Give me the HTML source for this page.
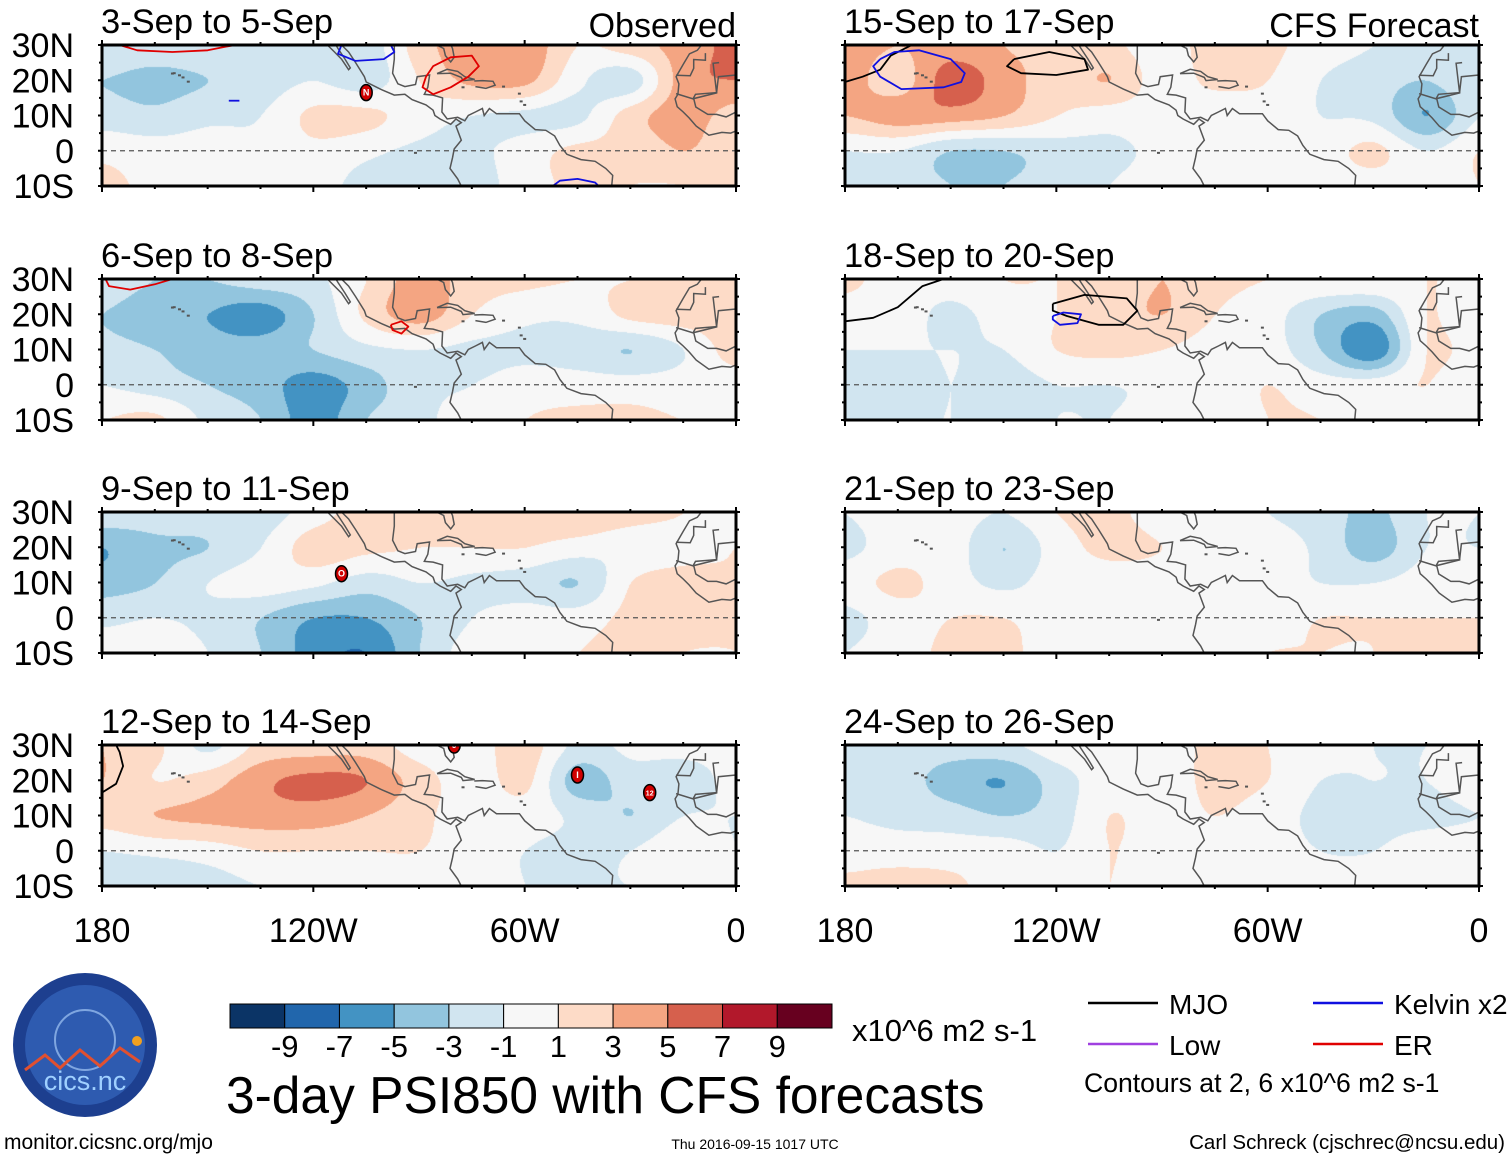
<!DOCTYPE html>
<html><head><meta charset="utf-8">
<style>
html,body{margin:0;padding:0;background:#fff;}
#wrap{position:relative;width:1510px;height:1159px;overflow:hidden;font-family:"Liberation Sans",sans-serif;}
canvas,svg{position:absolute;left:0;top:0;}
</style></head>
<body>
<div id="wrap">
<canvas id="cv" width="1510" height="1159"></canvas>
<svg id="sv" width="1510" height="1159" xmlns="http://www.w3.org/2000/svg"></svg>
</div>
<script>
// ---- data ----
const lats = [30,20,10,0,-10];
const lons = [-180,-165,-150,-135,-120,-105,-90,-75,-60,-45,-30,-15,0];
const panelTitles = ["3-Sep to 5-Sep","6-Sep to 8-Sep","9-Sep to 11-Sep","12-Sep to 14-Sep","15-Sep to 17-Sep","18-Sep to 20-Sep","21-Sep to 23-Sep","24-Sep to 26-Sep"];
const levels = [-9,-7,-5,-3,-1,1,3,5,7,9];
const levelColors = ["#0b3466","#2166ac","#4393c3","#92c5de","#d1e5f0","#f7f7f7","#fddbc7","#f4a582","#d6604d","#b2182b","#67001f"];
const xTickLabels = ["180","120W","60W","0"];
const yTickLabels = ["30N","20N","10N","0","10S"];
const field1 = [[-1.5,-2,-1.5,-1,-1.5,-2,2,4.5,4.5,1,2,4,5.5],[-3,-3.5,-3,-2,-1,-2,1,3.5,3.5,-0.5,-2,4,5],[-2,-2.5,-1.5,-1,1.5,1.5,0,-1,-1.5,-1.5,2,4,2],[0.5,0,0,-0.5,0.5,-0.5,-1.5,-1.5,0,1.5,1.5,3,1.5],[1.5,0.5,0,0,0,-2,-3,-2,0,1.5,1,1,2]];
const field2 = [[-2,-3,-3,-2,-1.5,1,4,2,1.5,1,1,1.5,2],[-3,-4,-5,-6,-3,1.5,4,1,-0.5,-0.5,1.5,2,2],[-2.5,-3,-4,-4,-3,-1.5,-1,-1.5,-1.5,-2,-3,-1,2],[-1,-2,-3,-4,-6,-4,-1.5,-1,0,0,0,0,0],[1,1.5,-1.5,-3,-6,-3,-1.5,0,1,1.5,1.5,1,1]];
const field3 = [[-1.5,-2,-2,-2,0,2,1.5,1.5,2,3,2,1,0],[-5,-3.5,-3,-1,2,1.5,1,1,1,0,-0.5,0,1],[-4,-3,-1,0,-0.5,-2,-1,-1.5,-2,-3,1,2,1],[-1.5,-1,-1.5,-3,-5,-5,-3,-1,0,0,1.5,1.5,1],[0,0,-1,-3,-6,-7,-3,0,0,1,1.5,1,1]];
const field4 = [[3,1.5,-1.5,1.5,2,2,0,0,2,-1.5,-0.5,0,0],[3,1,2,4.5,5.5,5,2,0,1.5,-4,-2,-2.5,0],[2,3,3.5,4,4,3,1.5,0,0,-1.5,-3,-1,-1],[-1,-0.5,0,1,1,1,1,0,-1,-1.5,-1,0.5,-1],[-2.5,-3,-2,-1,-1,0,0,0,-1,-1,-1,-1,-1]];
const field5 = [[4,3,4,3,2,1.5,0,2,1.5,0,-1,-1.5,-1],[4,2,6,4,2,3,0,1.5,1,-1,-2,-3,-1],[3,4,4,3,1,0,0,-0.5,0,-1,-1.5,-5,-1],[-1,-1,-3,-3,-2,-1.5,-0.5,0,0,0,1.5,-1,1],[-1,-2,-3,-3,-2,-1,0,0,0,0,0,0,1]];
const field6 = [[1.5,0,0,1,1,1.5,3,1.5,1,1,1,1,1],[0,0,-1.5,0,1,2,3,1,0,-3,-4,1,-1],[-1,-1,-1,-1,1,1.5,1,0,0,-3,-6.5,1,0],[-1.5,-2,-1,-2,-1,-1,-0.5,0,1,0,0,1,-1],[-1.5,-1.5,-1,-2,-1,-1,0,0,1,1,0,0,0]];
const field7 = [[-1,0,0,-1,1,1.5,0,0,-1,-2,-3.5,-1,-1],[-1.5,0,0,-3,0,1.5,1,0,0,-1.5,-4,-1,-1],[0,1.5,0,-1.5,0,0,0,0,0,-1,-1,0,0],[-1.5,0,1,1,0,0,0,0,0,1,1,1,1],[-1,0,1.5,1.5,0,0,0,0,1,1,1,3,1.5]];
const field8 = [[-1,-1.5,-2,-1.5,0,0,0,1.5,1,0,-1,-1,-1],[-1.5,-2,-4,-5,-2,0,0,1.5,1,-1,-1,-1,0],[-1,-1.5,-2,-3,-2,1,0,1,0,-1.5,-1.5,-1.5,-1],[0,0,0,0,-1,1,0,0,0,-1,-1,0,0],[1.5,2,1.5,0,0,1,0,0,1,0,0,0,0]];
const fields = [field1,field2,field3,field4,field5,field6,field7,field8];
// ---- layout ----
const PW=634, PH=141;
const panelLeft=[102,102,102,102,845,845,845,845];
const panelTop=[45,279,512,745,45,279,512,745];
const NS="http://www.w3.org/2000/svg";
const sv=document.getElementById('sv');
const ctx=document.getElementById('cv').getContext('2d');
function xOf(p,lon){return panelLeft[p]+(lon+180)/180*PW;}
function yOf(p,lat){return panelTop[p]+(30-lat)/40*PH;}
function mk(tag,attrs,parent){const e=document.createElementNS(NS,tag);for(const k in attrs)e.setAttribute(k,attrs[k]);(parent||sv).appendChild(e);return e;}
function cr(p0,p1,p2,p3,t){return 0.5*((2*p1)+(-p0+p2)*t+(2*p0-5*p1+4*p2-p3)*t*t+(-p0+3*p1-3*p2+p3)*t*t*t);}
function sample(g,r,c){r=Math.max(0,Math.min(g.length-1,r));c=Math.max(0,Math.min(g[0].length-1,c));return g[r][c];}
function interp(g,fr,fc){const r=Math.floor(fr),c=Math.floor(fc),tr=fr-r,tc=fc-c;const rows=[];
 for(let i=-1;i<=2;i++){rows.push(cr(sample(g,r+i,c-1),sample(g,r+i,c),sample(g,r+i,c+1),sample(g,r+i,c+2),tc));}
 return cr(rows[0],rows[1],rows[2],rows[3],tr);}
function colorIdx(v){let i=0;while(i<levels.length&&v>=levels[i])i++;return i;}
const rgb=levelColors.map(h=>[parseInt(h.substr(1,2),16),parseInt(h.substr(3,2),16),parseInt(h.substr(5,2),16)]);
fields.forEach((g,p)=>{
 const img=ctx.createImageData(PW,PH);
 for(let y=0;y<PH;y++){const lat=30-y/PH*40;const fr=(30-lat)/10;
  for(let x=0;x<PW;x++){const lon=-180+x/PW*180;const fc=(lon+180)/15;
   const c=rgb[colorIdx(interp(g,fr,fc))];const k=(y*PW+x)*4;img.data[k]=c[0];img.data[k+1]=c[1];img.data[k+2]=c[2];img.data[k+3]=255;}}
 ctx.putImageData(img,panelLeft[p],panelTop[p]);
});
// coastlines
const coastNA=[[-118,34],[-117,32.5],[-116,30],[-114,28],[-112,26],[-110,23],[-109.5,23.5],[-111,26],[-113,29],[-114.5,31.5],[-113,31],[-110,28],[-108,25],[-105.5,21],[-105,19.5],[-101,17.5],[-97,15.8],[-94,16],[-92,14.5],[-88,13],[-86,11.5],[-85.5,10],[-84,9],[-81,7.5],[-79.5,9],[-78,8],[-79.5,7],[-78,3],[-80,0.5],[-80.5,-2],[-81.2,-5],[-79,-8],[-77,-12]];
const coastGulf=[[-97,30],[-97,26],[-97.5,22],[-96,19],[-94,18.2],[-91,18.8],[-90.5,21],[-87,21.5],[-87.5,18],[-88.5,16],[-86,15.8],[-83.3,15],[-83.5,11],[-82,9],[-79,9.5],[-77,8.5],[-76,10],[-74,11],[-72,12],[-71.5,10],[-70,12],[-68,10.5],[-64,10.5],[-61.5,10.5],[-60,8.5],[-57,6],[-54,5.8],[-51.5,4.2],[-50,1.5],[-48,-1],[-44,-2.5],[-40,-3],[-37,-5],[-35,-7],[-35.3,-10]];
const coastFL=[[-85,30],[-83,29],[-82.5,27],[-81,25.2],[-80,26.5],[-80.5,29],[-81.4,31]];
const cuba=[[-84.9,21.9],[-82,23.1],[-79,22.5],[-77,21],[-74.2,20.2],[-77.5,19.9],[-78,20.8],[-81,22],[-84.9,21.9]];
const hisp=[[-74.3,19.8],[-72,19.9],[-69,19.7],[-68.4,18.6],[-71,17.7],[-74,18.2]];
const africa=[[-9.8,30],[-11,28.5],[-13.2,27.5],[-15,24.5],[-17,21],[-16.2,19],[-16.5,16],[-17.3,14.7],[-16.7,12.5],[-15,11],[-13.3,9.3],[-11.3,7],[-7.7,4.4],[-4,5.2],[-1.5,5],[0,5.6]];
const africaB=[[-8.7,27.7],[-8.7,25.7],[-12,25.9],[-12,23.4],[-13,21.3],[-17,21.4]];
const africaC=[[-4.8,25],[-6.5,24.8],[-5.5,16.4],[-12,14.8],[-11.4,12.4],[-8,10.3],[-5.5,10.3],[-2.8,9.6],[-0,11]];
const africaD=[[-17,16.2],[-12.2,14.7],[-11.5,16],[-5.5,16.5],[-5,21],[0,21.5]];
const coasts=[coastNA,coastGulf,coastFL,cuba,hisp,africa,africaB,africaC,africaD];
const islands=[[-155.5,19.6],[-157,20.8],[-158,21.4],[-159.5,22],[-160,21.9],[-66,18.2],[-61,14],[-61.5,16.2],[-77.5,18],[-91,-0.6],[-60,13]];
const contourLines=[
 {p:0,c:"#e00000",pts:[[-175,30],[-170,28.5],[-160,28],[-150,28.5],[-145,29.5],[-142,30]]},
 {p:0,c:"#1010e0",pts:[[-112,30],[-113,27.5],[-108,25.5],[-100,26],[-97,28],[-98,30]]},
 {p:0,c:"#1010e0",pts:[[-144,14.2],[-141,14.2]]},
 {p:0,c:"#e00000",pts:[[-88,21],[-86,24],[-81,26.5],[-75,27],[-73,24],[-76,21],[-81,18],[-86,16],[-89,18],[-88,21]]},
 {p:0,c:"#1010e0",pts:[[-52,-10],[-50,-8.5],[-45,-8],[-40,-9],[-39,-10]]},
 {p:1,c:"#e00000",pts:[[-179,30],[-178,28],[-172,27],[-165,28.5],[-160,30]]},
 {p:1,c:"#e00000",pts:[[-98,17],[-95,18],[-93,16.5],[-95,14.5],[-97.5,15.5],[-98,17]]},
 {p:3,c:"#000000",pts:[[-180,16.5],[-176,19],[-174,24],[-175,28],[-176,30]]},
 {p:4,c:"#000000",pts:[[-180,19.5],[-175,21],[-170,23],[-167,27],[-161,30]]},
 {p:4,c:"#1010e0",pts:[[-170,26],[-166,28],[-159,28.5],[-150,26],[-146,22],[-147,19.5],[-152,18],[-164,17.5],[-170,21],[-172,24],[-170,26]]},
 {p:4,c:"#000000",pts:[[-132,26],[-122,28],[-112,26],[-111,23],[-120,21.5],[-130,22],[-134,24],[-132,26]]},
 {p:5,c:"#000000",pts:[[-180,18],[-172,19],[-165,22],[-158,28],[-152,30]]},
 {p:5,c:"#000000",pts:[[-121,23],[-112,25.5],[-100,24.5],[-97,21],[-101,17],[-108,17],[-117,19.5],[-121,21],[-121,23]]},
 {p:5,c:"#1010e0",pts:[[-121,19.5],[-118,20.5],[-113,20],[-114,17.5],[-119,17],[-121,18.5],[-121,19.5]]}
];
const storms=[{p:0,lon:-105,lat:16.5,t:"N"},{p:2,lon:-112,lat:12.5,t:"O"},{p:3,lon:-80,lat:30,t:"9"},{p:3,lon:-45,lat:21.5,t:"I"},{p:3,lon:-24.5,lat:16.5,t:"12"}];

function polyPts(p,pts){return pts.map(q=>xOf(p,q[0]).toFixed(1)+","+yOf(p,q[1]).toFixed(1)).join(" ");}
for(let p=0;p<8;p++){
 const L=panelLeft[p],T=panelTop[p];
 const cid="clip"+p;
 const cp=mk('clipPath',{id:cid});mk('rect',{x:L,y:T,width:PW,height:PH},cp);
 const g=mk('g',{'clip-path':`url(#${cid})`});
 
 
 const eq=mk('line',{x1:L,x2:L+PW,y1:yOf(p,0),y2:yOf(p,0),stroke:"#555",'stroke-width':1.3,'stroke-dasharray':"5,4"},g);
 
 
 coasts.forEach(c=>{const e=mk('polyline',{points:polyPts(p,c),fill:"none",stroke:"#555",'stroke-width':1.5},g);
  
  });
 islands.forEach(i=>{const e=mk('rect',{x:xOf(p,i[0])-1.5,y:yOf(p,i[1])-1,width:3,height:2,fill:"#555"},g);
  
  });
 contourLines.filter(c=>c.p===p).forEach(c=>{const e=mk('polyline',{points:polyPts(p,c.pts),fill:"none",stroke:c.c,'stroke-width':1.8,'stroke-linejoin':'round'},g);
  
  });
 storms.filter(s=>s.p===p).forEach(s=>{const cx=xOf(p,s.lon),cy=yOf(p,s.lat);
  const e=mk('ellipse',{cx:cx,cy:cy,rx:6,ry:8,fill:"#d00000",stroke:"#000",'stroke-width':1.5},g);
  
  
  const t=mk('text',{x:cx,y:cy+3,'text-anchor':'middle','font-size':s.t.length>1?7:9,fill:"#fff",'font-weight':'bold'},g);t.textContent=s.t;});
 const fr=mk('rect',{x:L,y:T,width:PW,height:PH,fill:"none",stroke:"#000",'stroke-width':3});
 
 
 for(let i=0;i<=12;i++){const x=L+i*PW/12;const major=i%4===0;
  mk('line',{x1:x,x2:x,y1:T-(major?5:3),y2:T,stroke:"#000",'stroke-width':2});
  mk('line',{x1:x,x2:x,y1:T+PH,y2:T+PH+(major?6:3),stroke:"#000",'stroke-width':2});}
 for(let j=0;j<=8;j++){const y=T+j*PH/8;const major=j%2===0;
  mk('line',{x1:L-(major?4:3),x2:L,y1:y,y2:y,stroke:"#000",'stroke-width':2});
  mk('line',{x1:L+PW,x2:L+PW+(major?4:3),y1:y,y2:y,stroke:"#000",'stroke-width':2});}
 const tt=mk('text',{x:L-1,y:T-12,'font-size':34.5,fill:"#000"});tt.textContent=panelTitles[p];
 
 
 if(p<4){yTickLabels.forEach((lb,j)=>{const t=mk('text',{x:74,y:T+j*PH/4+12,'font-size':34,'text-anchor':'end',fill:"#000"});t.textContent=lb;
  
  });}
}
const o1=mk('text',{x:736,y:37,'font-size':34,'text-anchor':'end'});o1.textContent="Observed";


const o2=mk('text',{x:1479,y:37,'font-size':34,'text-anchor':'end'});o2.textContent="CFS Forecast";


[102,845].forEach(L=>{xTickLabels.forEach((lb,i)=>{const t=mk('text',{x:L+i*PW/3,y:942,'font-size':34,'text-anchor':'middle'});t.textContent=lb;
 
 });});
// colorbar
const cbL=230,cbT=1004,cbW=602,cbH=24,bw=cbW/levelColors.length;
levelColors.forEach((c,i)=>{const r=mk('rect',{x:cbL+i*bw,y:cbT,width:bw,height:cbH,fill:c,stroke:"#000",'stroke-width':1});
 
 });
levels.forEach((v,i)=>{const t=mk('text',{x:cbL+(i+1)*bw,y:1057,'font-size':31,'text-anchor':'middle'});t.textContent=String(v);
 
 });
function txt(x,y,s,size,name,anchor){const t=mk('text',{x:x,y:y,'font-size':size,'text-anchor':anchor||'start'});t.textContent=s;
 
 return t;}
txt(852,1041,"x10^6 m2 s-1",31,'colorbar-units');
txt(226,1113,"3-day PSI850 with CFS forecasts",51.5,'main-title');
txt(4,1149,"monitor.cicsnc.org/mjo",21,'source-url');
txt(755,1149,"Thu 2016-09-15 1017 UTC",14,'timestamp','middle');
txt(1505,1149,"Carl Schreck (cjschrec@ncsu.edu)",20.5,'author-credit','end');
const legend=[["MJO","#000",1088,1003],["Kelvin x2","#1010e0",1313,1003],["Low","#a040e0",1088,1044],["ER","#e00000",1313,1044]];
legend.forEach(l=>{const ln=mk('line',{x1:l[2],x2:l[2]+70,y1:l[3],y2:l[3],stroke:l[1],'stroke-width':2.5});
 
 
 txt(l[2]+81,l[3]+11,l[0],28,'legend-entry');});
txt(1084,1092,"Contours at 2, 6 x10^6 m2 s-1",26.6,'contour-note');
const lg=mk('g',{});


mk('circle',{cx:85,cy:1045,r:72,fill:"#1d3f8f"},lg);
mk('circle',{cx:85,cy:1045,r:60,fill:"#2e5bb0"},lg);
mk('circle',{cx:85,cy:1040,r:30,fill:"none",stroke:"#7fa6e0",'stroke-width':2},lg);
mk('polyline',{points:"25,1070 45,1055 60,1068 80,1050 100,1066 120,1048 140,1062",fill:"none",stroke:"#e05030",'stroke-width':3},lg);
mk('circle',{cx:137,cy:1041,r:5,fill:"#f0a020"},lg);
const lt=mk('text',{x:85,y:1090,'font-size':27,'text-anchor':'middle',fill:"#9fd0ff"},lg);lt.textContent="cics.nc";
</script>
</body></html>
